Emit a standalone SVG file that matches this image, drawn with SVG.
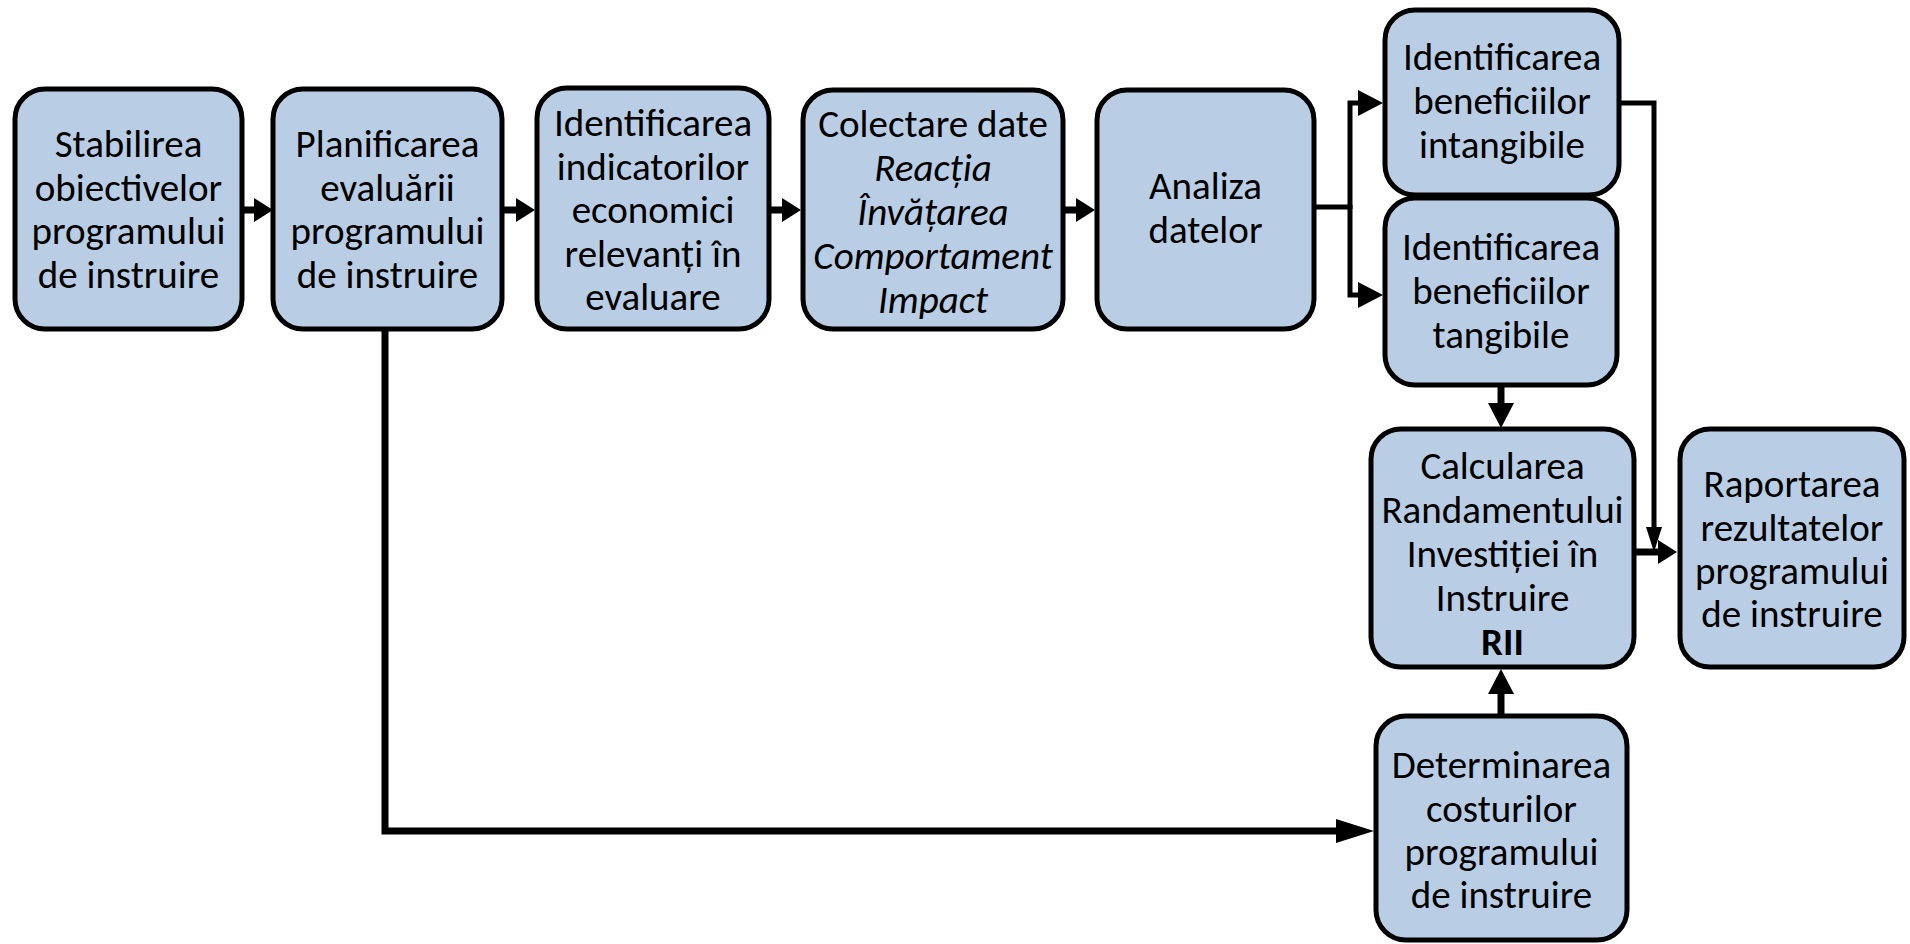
<svg xmlns="http://www.w3.org/2000/svg" width="1910" height="944" viewBox="0 0 1910 944">
<style>
.box{fill:#B9CDE5;stroke:#000;stroke-width:5}
.t{font-family:Carlito,Calibri,Lato,"Liberation Sans",sans-serif;font-size:39px;fill:#000;text-anchor:middle}
.i{font-style:italic}
.b{font-weight:bold}
.c{fill:none;stroke:#000}
.w7{stroke-width:7}
.w5{stroke-width:5}
</style>
<defs>
<marker id="hS" markerUnits="userSpaceOnUse" markerWidth="19" markerHeight="24" refX="0" refY="12" orient="auto"><path d="M0,0 L19,12 L0,24 z" fill="#000"/></marker>
<marker id="hM" markerUnits="userSpaceOnUse" markerWidth="25" markerHeight="26" refX="0" refY="13" orient="auto"><path d="M0,0 L25,13 L0,26 z" fill="#000"/></marker>
<marker id="hN" markerUnits="userSpaceOnUse" markerWidth="25" markerHeight="16" refX="0" refY="8" orient="auto"><path d="M0,0 L25,8 L0,16 z" fill="#000"/></marker>
<marker id="hL" markerUnits="userSpaceOnUse" markerWidth="38" markerHeight="24" refX="0" refY="12" orient="auto"><path d="M0,0 L38,12 L0,24 z" fill="#000"/></marker>
</defs>
<g id="connectors">
<path class="c w7" d="M244,210 H254" marker-end="url(#hS)"/>
<path class="c w7" d="M504,210 H516" marker-end="url(#hS)"/>
<path class="c w7" d="M771,210 H782" marker-end="url(#hS)"/>
<path class="c w7" d="M1065,210 H1076" marker-end="url(#hS)"/>
<path class="c w5" d="M1316,207 H1350"/>
<path class="c w5" d="M1350,209 V103 H1358" marker-end="url(#hM)"/>
<path class="c w5" d="M1350,205 V295 H1358" marker-end="url(#hM)"/>
<path class="c w5" d="M1621,103 H1654 V527" marker-end="url(#hN)"/>
<path class="c w7" d="M1636,552 H1658" marker-end="url(#hS)"/>
<path class="c w7" d="M1501,387 V403" marker-end="url(#hM)"/>
<path class="c w7" d="M1501,714 V694" marker-end="url(#hM)"/>
<path class="c w7" d="M385,331 V831 H1336" marker-end="url(#hL)"/>
</g>
<g id="n1"><rect class="box" x="15" y="89" width="227" height="240" rx="30"/>
<text class="t" x="128.5" y="157">Stabilirea</text><text class="t" x="128.5" y="201">obiectivelor</text><text class="t" x="128.5" y="244">programului</text><text class="t" x="128.5" y="288">de instruire</text></g>
<g id="n2"><rect class="box" x="273" y="89" width="229" height="240" rx="30"/>
<text class="t" x="387.5" y="157">Planificarea</text><text class="t" x="387.5" y="201">evaluării</text><text class="t" x="387.5" y="244">programului</text><text class="t" x="387.5" y="288">de instruire</text></g>
<g id="n3"><rect class="box" x="537" y="88" width="232" height="241" rx="30"/>
<text class="t" x="653" y="136">Identificarea</text><text class="t" x="653" y="180">indicatorilor</text><text class="t" x="653" y="223">economici</text><text class="t" x="653" y="267">relevanți în</text><text class="t" x="653" y="310">evaluare</text></g>
<g id="n4"><rect class="box" x="803" y="90" width="260" height="239" rx="30"/>
<text class="t" x="933" y="137">Colectare date</text><text class="t i" x="933" y="181">Reacția</text><text class="t i" x="933" y="225">Învățarea</text><text class="t i" x="933" y="269">Comportament</text><text class="t i" x="933" y="313">Impact</text></g>
<g id="n5"><rect class="box" x="1097" y="90" width="217" height="239" rx="30"/>
<text class="t" x="1205.5" y="199">Analiza</text><text class="t" x="1205.5" y="243">datelor</text></g>
<g id="n6"><rect class="box" x="1385" y="10" width="234" height="185" rx="30"/>
<text class="t" x="1502" y="70">Identificarea</text><text class="t" x="1502" y="114">beneficiilor</text><text class="t" x="1502" y="158">intangibile</text></g>
<g id="n7"><rect class="box" x="1385" y="198" width="232" height="187" rx="30"/>
<text class="t" x="1501" y="260">Identificarea</text><text class="t" x="1501" y="304">beneficiilor</text><text class="t" x="1501" y="348">tangibile</text></g>
<g id="n8"><rect class="box" x="1371" y="429" width="263" height="238" rx="30"/>
<text class="t" x="1502.5" y="479">Calcularea</text><text class="t" x="1502.5" y="523">Randamentului</text><text class="t" x="1502.5" y="567">Investiției în</text><text class="t" x="1502.5" y="611">Instruire</text><text class="t b" x="1502.5" y="655">RII</text></g>
<g id="n9"><rect class="box" x="1680" y="429" width="224" height="238" rx="30"/>
<text class="t" x="1792" y="497">Raportarea</text><text class="t" x="1792" y="541">rezultatelor</text><text class="t" x="1792" y="584">programului</text><text class="t" x="1792" y="627">de instruire</text></g>
<g id="n10"><rect class="box" x="1376" y="716" width="251" height="224" rx="30"/>
<text class="t" x="1501.5" y="778">Determinarea</text><text class="t" x="1501.5" y="822">costurilor</text><text class="t" x="1501.5" y="865">programului</text><text class="t" x="1501.5" y="908">de instruire</text></g>
</svg>
